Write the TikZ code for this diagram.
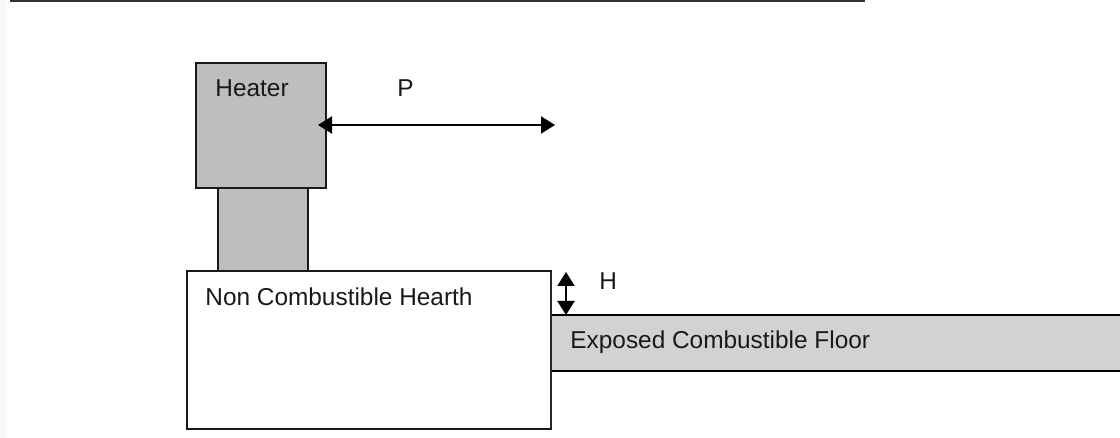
\documentclass[tikz,border=0pt]{standalone}
\usepackage{fontspec}
\setmainfont{Liberation Sans}
\usetikzlibrary{arrows.meta}
\definecolor{heatergray}{HTML}{BEBEBE}
\definecolor{floorgray}{HTML}{D2D2D2}
\definecolor{edgetint}{HTML}{F6FAF8}
\tikzset{
  solid box/.style={draw=black!90, line width=1.3pt, anchor=north west, inner sep=0pt, outer sep=0pt},
  label text/.style={inner sep=0pt, text=black!90, font=\fontsize{12.2}{14}\selectfont},
  dim arrow/.style={{Triangle[length=7pt,width=8.5pt]}-{Triangle[length=7pt,width=8.5pt]}, line width=1pt, black}
}
\begin{document}
\begin{tikzpicture}[x=0.5pt, y=-0.5pt]
        \useasboundingbox (0,0) rectangle (1120,438);
        \fill[edgetint] (0,0) rectangle (7,438);
        % top rule
        \coordinate (rule1) at (10,1);
        \coordinate (rule2) at (865,1);
        \draw[line width=1.5pt, black!80] (rule1) -- (rule2);
        \node [solid box, fill=heatergray, minimum width=65pt, minimum height=62.5pt] (heater) at (196,63) {};
        \node [solid box, fill=heatergray, minimum width=45pt, minimum height=41.5pt] (neck) at (218,188) {};
        \node [solid box, fill=white, line width=1pt, minimum width=182pt, minimum height=79pt] (hearth) at (187,271) {};
        \node [solid box, fill=floorgray, draw=none, minimum width=285pt, minimum height=28pt] (floor) at (551,315) {};
        \draw[line width=1.3pt, black] (floor.north west) -- (floor.north east);
        \draw[line width=1.1pt, black] (floor.south west) -- (floor.south east);
        \draw[line width=1pt, black!85] (hearth.north east) -- (hearth.south east);
        \node [label text, anchor=base west] (heatertext) at (215,97) {Heater};
        \node [label text, anchor=base west] (ptext) at (397,97) {P};
        \node [label text, anchor=base west] (htext) at (599,290) {H};
        \node [label text, anchor=base west] (hearthtext) at (205,306) {Non Combustible Hearth};
        \node [label text, anchor=base west] (floortext) at (570,349) {Exposed Combustible Floor};
        \coordinate (p1) at (318,125);
        \coordinate (p2) at (555,125);
        \coordinate (h1) at (566,272);
        \draw[dim arrow] (p1) -- (p2);
        \draw[dim arrow] (h1) -- (h1 |- floor.north);
      \end{tikzpicture}
\end{document}
